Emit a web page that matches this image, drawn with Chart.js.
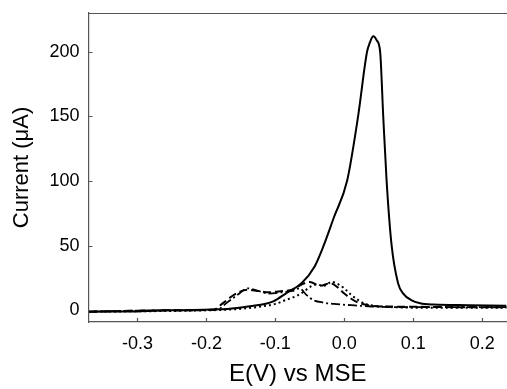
<!DOCTYPE html>
<html>
<head>
<meta charset="utf-8">
<script src="https://cdn.jsdelivr.net/npm/chart.js@4/dist/chart.umd.min.js"></script>
<style>
  html, body { margin: 0; padding: 0; background: #fff; }
  #wrap { width: 507px; height: 389px; }
</style>
</head>
<body>
<div id="wrap"><canvas id="c" width="507" height="389"></canvas></div>
<script>
// potential (V vs MSE) and current (uA)
const solidE = [-0.37, -0.30, -0.26, -0.22, -0.19, -0.17, -0.137, -0.103, -0.084, -0.062, -0.043, -0.030, -0.015, 0.004, 0.020, 0.033, 0.037, 0.042, 0.047, 0.052, 0.0565, 0.0614, 0.0687, 0.078, 0.0855, 0.097, 0.110, 0.130, 0.180, 0.235];
const solidI = [-1, -0.8, 0, 0.3, 0.7, 1.1, 3.1, 7, 13.4, 21, 34, 50, 72, 100, 150, 200, 207, 212, 209, 200, 150, 100, 50, 21, 13, 8, 5.5, 4.5, 4, 3.5];

const dashE = [-0.37, -0.26, -0.19, -0.175, -0.16, -0.14, -0.125, -0.11, -0.09, -0.075, -0.062, -0.05, -0.035, -0.02, -0.01, 0.0, 0.01, 0.02, 0.03, 0.04, 0.06, 0.10, 0.16, 0.235];
const dashI = [-1, 0, 0.5, 6, 12, 16, 15, 14, 15, 16, 20, 22, 19, 21, 18, 13, 9, 6, 4.5, 3.5, 3, 2.8, 2.5, 2.5];

const dashDotE = [-0.37, -0.26, -0.185, -0.17, -0.155, -0.14, -0.125, -0.11, -0.09, -0.075, -0.065, -0.055, -0.045, -0.03, -0.015, 0.01, 0.04, 0.08, 0.15, 0.235];
const dashDotI = [-1, 0, 0.5, 6, 12, 17, 15, 13, 14, 15, 17, 12, 8, 6, 5, 4, 3, 2.5, 2.5, 2.5];

const dotE = [-0.37, -0.26, -0.20, -0.15, -0.12, -0.10, -0.085, -0.07, -0.06, -0.05, -0.04, -0.03, -0.018, -0.008, 0.0, 0.01, 0.02, 0.03, 0.045, 0.07, 0.12, 0.235];
const dotI = [-1, -0.5, 0, 1.2, 3, 5, 8, 11, 14, 18, 20, 19, 22, 20, 17, 12, 8, 5, 3.5, 2.5, 2, 2];

const xTicks = [-0.3, -0.2, -0.1, 0.0, 0.1, 0.2];
const yTicks = [0, 50, 100, 150, 200];

const pts = (xs, ys) => xs.map((x, i) => ({ x: x, y: ys[i] }));
const font = "'Liberation Sans', Arial, sans-serif";

// inward tick marks and the top frame line
const frame = {
  id: 'frame',
  afterDraw(chart) {
    const ctx = chart.ctx, a = chart.chartArea;
    const xs = chart.scales.x, ys = chart.scales.y;
    ctx.save();
    ctx.strokeStyle = '#555';
    ctx.lineWidth = 1.2;
    ctx.beginPath();
    ctx.moveTo(a.left, a.top + 0.5);
    ctx.lineTo(a.right, a.top + 0.5);
    xTicks.forEach(v => {
      const px = Math.round(xs.getPixelForValue(v)) + 0.5;
      ctx.moveTo(px, a.bottom);
      ctx.lineTo(px, a.bottom - 4);
    });
    yTicks.forEach(v => {
      const py = Math.round(ys.getPixelForValue(v)) + 0.5;
      ctx.moveTo(a.left, py);
      ctx.lineTo(a.left + 4, py);
    });
    ctx.stroke();
    ctx.restore();
  }
};

const line = (data, dash, w) => ({
  data: data,
  borderColor: '#000',
  borderWidth: w,
  borderDash: dash,
  pointRadius: 0,
  fill: false,
  cubicInterpolationMode: 'monotone'
});

new Chart(document.getElementById('c'), {
  type: 'line',
  data: {
    datasets: [
      line(pts(dotE, dotI), [2, 3], 2),
      line(pts(dashDotE, dashDotI), [9, 3, 2, 3], 1.8),
      line(pts(dashE, dashI), [8, 4], 2),
      line(pts(solidE, solidI), [], 2)
    ]
  },
  options: {
    responsive: false,
    animation: false,
    events: [],
    layout: { padding: { top: 13, right: 0, left: 0, bottom: 0 } },
    plugins: { legend: { display: false }, tooltip: { enabled: false } },
    scales: {
      x: {
        type: 'linear',
        min: -0.371,
        max: 0.236,
        afterBuildTicks: s => { s.ticks = xTicks.map(v => ({ value: v })); },
        afterFit: s => { s.height = 67; s.paddingLeft = 0; s.paddingRight = 0; },
        grid: { display: false, drawTicks: false },
        border: { display: true, color: '#555', width: 1.2 },
        ticks: {
          padding: 11,
          color: '#000',
          font: { family: font, size: 18 },
          callback: v => v.toFixed(1),
          maxRotation: 0
        },
        title: {
          display: true,
          text: 'E(V) vs MSE',
          color: '#000',
          font: { family: font, size: 24 },
          padding: { top: 4, bottom: 0 }
        }
      },
      y: {
        min: -9,
        max: 230,
        afterBuildTicks: s => { s.ticks = yTicks.map(v => ({ value: v })); },
        afterFit: s => { s.width = 88.5; s.paddingTop = 0; s.paddingBottom = 0; },
        grid: { display: false, drawTicks: false },
        border: { display: true, color: '#555', width: 1.2 },
        ticks: {
          padding: 9,
          color: '#000',
          font: { family: font, size: 18 }
        },
        title: {
          display: true,
          text: 'Current (\u03bcA)',
          color: '#000',
          font: { family: font, size: 22 },
          padding: { top: 9, bottom: 0 }
        }
      }
    }
  },
  plugins: [frame]
});
</script>
</body>
</html>
